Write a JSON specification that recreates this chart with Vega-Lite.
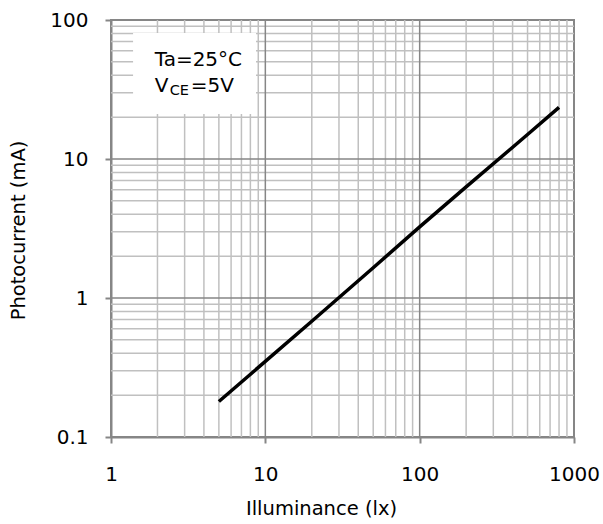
{
  "$schema": "https://vega.github.io/schema/vega-lite/v6.json",
  "width": 463,
  "height": 417,
  "autosize": "none",
  "padding": {"left": 111, "top": 20, "right": 29, "bottom": 87},
  "background": "white",
  "config": {
    "view": {"stroke": "#868686", "strokeWidth": 2},
    "font": "DejaVu Sans",
    "axis": {
      "labelFont": "DejaVu Sans",
      "titleFont": "DejaVu Sans",
      "labelFontSize": 20,
      "titleFontSize": 19.5,
      "titleFontWeight": "normal",
      "labelColor": "#000000",
      "titleColor": "#000000",
      "domainColor": "#868686",
      "domainWidth": 2,
      "tickColor": "#868686",
      "tickWidth": 2,
      "tickSize": 6,
      "labelFlush": false,
      "labelOverlap": false,
      "grid": false
    }
  },
  "datasets": {
    "curve": [
      {"lux": 5, "ma": 0.18},
      {"lux": 10, "ma": 0.35},
      {"lux": 20, "ma": 0.68},
      {"lux": 50, "ma": 1.65},
      {"lux": 100, "ma": 3.25},
      {"lux": 200, "ma": 6.3},
      {"lux": 500, "ma": 15},
      {"lux": 800, "ma": 23.5}
    ],
    "xminor": [
      {"v": 2}, {"v": 3}, {"v": 4}, {"v": 5}, {"v": 6}, {"v": 7}, {"v": 8}, {"v": 9},
      {"v": 20}, {"v": 30}, {"v": 40}, {"v": 50}, {"v": 60}, {"v": 70}, {"v": 80}, {"v": 90},
      {"v": 200}, {"v": 300}, {"v": 400}, {"v": 500}, {"v": 600}, {"v": 700}, {"v": 800}, {"v": 900}
    ],
    "yminor": [
      {"v": 0.2}, {"v": 0.3}, {"v": 0.4}, {"v": 0.5}, {"v": 0.6}, {"v": 0.7}, {"v": 0.8}, {"v": 0.9},
      {"v": 2}, {"v": 3}, {"v": 4}, {"v": 5}, {"v": 6}, {"v": 7}, {"v": 8}, {"v": 9},
      {"v": 20}, {"v": 30}, {"v": 40}, {"v": 50}, {"v": 60}, {"v": 70}, {"v": 80}, {"v": 90}
    ],
    "xmajor": [{"v": 10}, {"v": 100}],
    "ymajor": [{"v": 1}, {"v": 10}],
    "box": [{"x1": 1.39, "x2": 8.7, "y1": 21.1, "y2": 80.5}],
    "note": [{"x": 1.92, "y1": 46.7, "y2": 30.3}]
  },
  "layer": [
    {
      "data": {"name": "xminor"},
      "mark": {"type": "rule", "color": "#c0c0c0", "strokeWidth": 1.5},
      "encoding": {
        "x": {"field": "v", "type": "quantitative", "scale": {"type": "log", "domain": [1, 1000]},
          "axis": {"values": [1, 10, 100, 1000], "format": "~g", "title": "Illuminance  (lx)", "labelPadding": 21, "titleX": 210, "titleY": 77, "titleBaseline": "alphabetic", "titleAnchor": null, "titleAlign": "center"}}
      }
    },
    {
      "data": {"name": "yminor"},
      "mark": {"type": "rule", "color": "#c0c0c0", "strokeWidth": 1.5},
      "encoding": {
        "y": {"field": "v", "type": "quantitative", "scale": {"type": "log", "domain": [0.1, 100]},
          "axis": {"values": [0.1, 1, 10, 100], "format": "~g", "title": "Photocurrent (mA)", "labelPadding": 17, "titleX": -87, "titleY": 210, "titleBaseline": "alphabetic", "titleAngle": -90, "titleAlign": "center"}}
      }
    },
    {
      "data": {"name": "xmajor"},
      "mark": {"type": "rule", "color": "#868686", "strokeWidth": 1.5},
      "encoding": {"x": {"field": "v", "type": "quantitative"}}
    },
    {
      "data": {"name": "ymajor"},
      "mark": {"type": "rule", "color": "#868686", "strokeWidth": 1.5},
      "encoding": {"y": {"field": "v", "type": "quantitative"}}
    },
    {
      "data": {"name": "box"},
      "mark": {"type": "rect", "color": "white"},
      "encoding": {
        "x": {"field": "x1", "type": "quantitative"},
        "x2": {"field": "x2"},
        "y": {"field": "y1", "type": "quantitative"},
        "y2": {"field": "y2"}
      }
    },
    {
      "data": {"name": "note"},
      "mark": {"type": "text", "text": "Ta=25°C", "align": "left", "baseline": "alphabetic", "fontSize": 20, "color": "black"},
      "encoding": {"x": {"field": "x", "type": "quantitative"}, "y": {"field": "y1", "type": "quantitative"}}
    },
    {
      "data": {"name": "note"},
      "mark": {"type": "text", "text": "V", "align": "left", "baseline": "alphabetic", "fontSize": 20, "color": "black"},
      "encoding": {"x": {"field": "x", "type": "quantitative"}, "y": {"field": "y2", "type": "quantitative"}}
    },
    {
      "data": {"name": "note"},
      "mark": {"type": "text", "text": "CE", "align": "left", "baseline": "alphabetic", "fontSize": 14.5, "dx": 15, "dy": 3, "color": "black"},
      "encoding": {"x": {"field": "x", "type": "quantitative"}, "y": {"field": "y2", "type": "quantitative"}}
    },
    {
      "data": {"name": "note"},
      "mark": {"type": "text", "text": "=5V", "align": "left", "baseline": "alphabetic", "fontSize": 20, "dx": 36, "color": "black"},
      "encoding": {"x": {"field": "x", "type": "quantitative"}, "y": {"field": "y2", "type": "quantitative"}}
    },
    {
      "data": {"name": "curve"},
      "mark": {"type": "line", "color": "black", "strokeWidth": 3.5},
      "encoding": {
        "x": {"field": "lux", "type": "quantitative"},
        "y": {"field": "ma", "type": "quantitative"}
      }
    }
  ]
}
